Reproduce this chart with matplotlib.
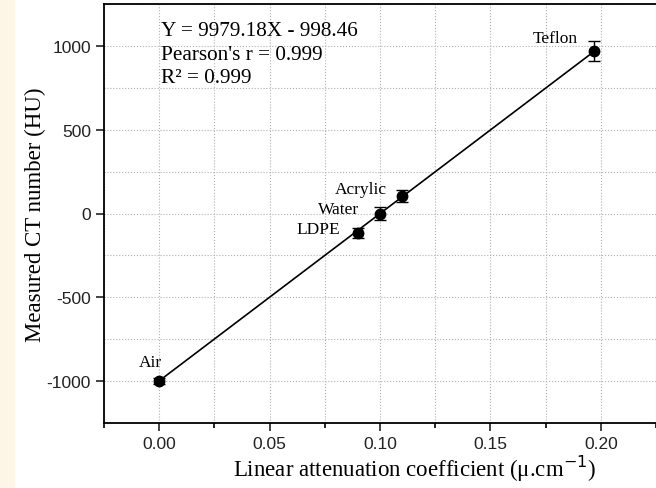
import matplotlib.pyplot as plt
import matplotlib.patches as mpatches
import numpy as np

materials = ['Air', 'LDPE', 'Water', 'Acrylic', 'Teflon']
mu = [0.0, 0.090, 0.100, 0.110, 0.197]
ct = [-1000, -115, 0, 102, 968]
ct_err = [18, 30, 40, 36, 60]

slope = 9979.18
intercept = -998.46

plt.rcParams['axes.unicode_minus'] = False

fig = plt.figure(figsize=(6.56, 4.89), dpi=100)
fig.patches.append(mpatches.Rectangle((0, 0), 14 / 656, 1, transform=fig.transFigure,
                                      color='#fdf5e6', zorder=0))
ax = fig.add_axes([104 / 656, 65 / 489, 552 / 656, 419 / 489])

xfit = np.array([mu[0], mu[-1]])
ax.plot(xfit, slope * xfit + intercept, color='black', lw=1.2, zorder=3)
ax.errorbar(mu, ct, yerr=ct_err, fmt='o', color='black', ms=7.5, capsize=4,
            elinewidth=1, capthick=1, zorder=4)

serif = 'Liberation Serif'
# label offsets in pixels (dx, dy, ha)
offsets = {'Air': (-9, 19, 'center'), 'LDPE': (-18, 4, 'right'), 'Water': (-21, 5, 'right'),
           'Acrylic': (-15, 7, 'right'), 'Teflon': (-16, 13, 'right')}
for name, x, y in zip(materials, mu, ct):
    dx, dy, ha = offsets[name]
    ax.annotate(name, (x, y), xytext=(dx * 0.72, dy * 0.72), textcoords='offset points',
                ha=ha, va='center', fontsize=12.5, family=serif)

ax.text(0.0008, 1089, 'Y = 9979.18X - 998.46', fontsize=15.3, family=serif, va='center')
ax.text(0.0008, 946, "Pearson's r = 0.999", fontsize=15.3, family=serif, va='center')
ax.text(0.0008, 810, 'R\u00b2 = 0.999', fontsize=15.3, family=serif, va='center')

ax.set_xlim(-0.025, 0.2205)
ax.set_ylim(-1250, 1250)
ax.set_xticks([0.0, 0.05, 0.10, 0.15, 0.20])
ax.set_xticklabels(['0.00', '0.05', '0.10', '0.15', '0.20'])
ax.set_xticks(np.arange(-0.025, 0.23, 0.025), minor=True)
ax.set_yticks([-1000, -500, 0, 500, 1000])
ax.set_yticks(np.arange(-1250, 1251, 250), minor=True)
ax.tick_params(axis='both', which='major', direction='out', length=6, width=1.2,
               labelsize=12.5, colors='#222222')
ax.tick_params(axis='x', which='minor', direction='out', length=3.5, width=1.2)
ax.tick_params(axis='y', which='minor', length=0)
for lab in ax.get_xticklabels() + ax.get_yticklabels():
    lab.set_family('Liberation Sans')

ax.grid(True, which='both', color='#b0b0b0', linestyle=':', linewidth=0.8)
ax.set_axisbelow(True)
ax.spines['right'].set_visible(False)
for s in ['left', 'bottom', 'top']:
    ax.spines[s].set_linewidth(1.3)

ax.set_xlabel('Linear attenuation coefficient (\u03bc.cm$^{-1}$)', fontsize=16.5, family=serif)
ax.xaxis.set_label_coords(0.563, -0.072)
ax.set_ylabel('Measured CT number (HU)', fontsize=16.5, family=serif)
ax.yaxis.set_label_coords(-0.105, 0.5)

fig.savefig('out.png', dpi=100)
